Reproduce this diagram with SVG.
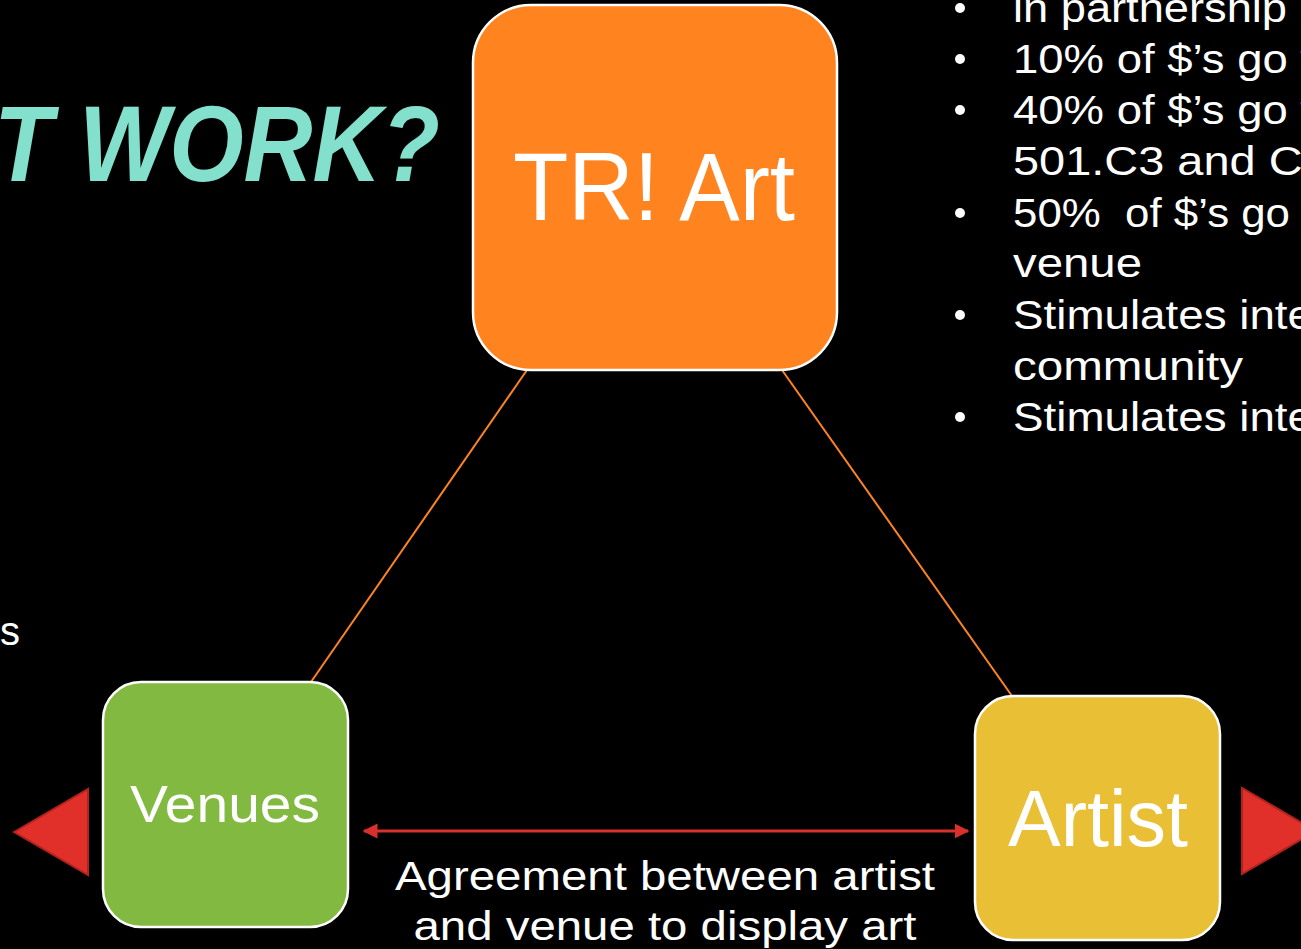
<svg xmlns="http://www.w3.org/2000/svg" width="1301" height="949" viewBox="0 0 1301 949">
<defs>
<style>
.t{font-family:"Liberation Sans","DejaVu Sans",sans-serif;fill:#ffffff}
.b{font-size:40px}
.node{stroke:#ffffff;stroke-width:2.5}
</style>
<marker id="ah" viewBox="0 0 10 10" refX="9" refY="5" markerWidth="5" markerHeight="5" orient="auto-start-reverse" markerUnits="strokeWidth">
<path d="M0,0 L10,5 L0,10 z" fill="#D9302C"/>
</marker>
</defs>
<rect x="0" y="0" width="1301" height="949" fill="#000000"/>
<text x="440" y="181" text-anchor="end" font-family="Liberation Sans, sans-serif" font-size="108" font-weight="bold" font-style="italic" fill="#82E0CC" textLength="446" lengthAdjust="spacingAndGlyphs">T WORK?</text>
<text class="t b" x="0" y="645">s</text>
<g id="bullets">
<g fill="#ffffff">
<circle cx="960" cy="8" r="5"/>
<circle cx="960" cy="59" r="5"/>
<circle cx="960" cy="110" r="5"/>
<circle cx="960" cy="213" r="5"/>
<circle cx="960" cy="315" r="5"/>
<circle cx="960" cy="417" r="5"/>
</g>
<text class="t b" x="1013" y="22" textLength="274" lengthAdjust="spacingAndGlyphs">in partnership</text>
<text class="t b" x="1013" y="73" textLength="300" lengthAdjust="spacingAndGlyphs">10% of $’s go t</text>
<text class="t b" x="1013" y="124" textLength="300" lengthAdjust="spacingAndGlyphs">40% of $’s go t</text>
<text class="t b" x="1013" y="175" textLength="300" lengthAdjust="spacingAndGlyphs">501.C3 and Cl</text>
<text class="t b" x="1013" y="227" textLength="277" lengthAdjust="spacingAndGlyphs">50%&#160; of $’s go</text>
<text class="t b" x="1013" y="277" textLength="129" lengthAdjust="spacingAndGlyphs">venue</text>
<text class="t b" x="1013" y="329" textLength="300" lengthAdjust="spacingAndGlyphs">Stimulates inte</text>
<text class="t b" x="1013" y="380" textLength="230" lengthAdjust="spacingAndGlyphs">community</text>
<text class="t b" x="1013" y="431" textLength="300" lengthAdjust="spacingAndGlyphs">Stimulates inte</text>
</g>
<g id="connectors">
<line x1="527" y1="370" x2="311" y2="682" stroke="#FF8420" stroke-width="2"/>
<line x1="782" y1="370" x2="1012" y2="696" stroke="#FF8420" stroke-width="2"/>
<line x1="364" y1="831" x2="968" y2="831" stroke="#D9302C" stroke-width="3" marker-start="url(#ah)" marker-end="url(#ah)"/>
<text class="t b" x="665" y="890" text-anchor="middle" textLength="540" lengthAdjust="spacingAndGlyphs">Agreement between artist</text>
<text class="t b" x="665" y="940" text-anchor="middle" textLength="503" lengthAdjust="spacingAndGlyphs">and venue to display art</text>
</g>
<g id="tr-art">
<rect class="node" x="473" y="5" width="364" height="365" rx="58" fill="#FF8420"/>
<text class="t" x="654" y="220" text-anchor="middle" font-size="97" textLength="282" lengthAdjust="spacingAndGlyphs">TR! Art</text>
</g>
<g id="venues">
<rect class="node" x="103" y="682" width="245" height="245" rx="38" fill="#82BA41"/>
<text class="t" x="225" y="822" text-anchor="middle" font-size="52" textLength="190" lengthAdjust="spacingAndGlyphs">Venues</text>
</g>
<g id="artist">
<rect class="node" x="975" y="696" width="245" height="244" rx="38" fill="#E9BF35"/>
<text class="t" x="1098" y="846" text-anchor="middle" font-size="80" textLength="180" lengthAdjust="spacingAndGlyphs">Artist</text>
</g>
<g id="left-triangle">
<polygon points="14,832 88,789 88,875" fill="#E1302A" stroke="#B2221C" stroke-width="2"/>
</g>
<g id="right-triangle">
<polygon points="1242,788 1242,874 1316,831" fill="#E1302A" stroke="#B2221C" stroke-width="2"/>
</g>
</svg>
